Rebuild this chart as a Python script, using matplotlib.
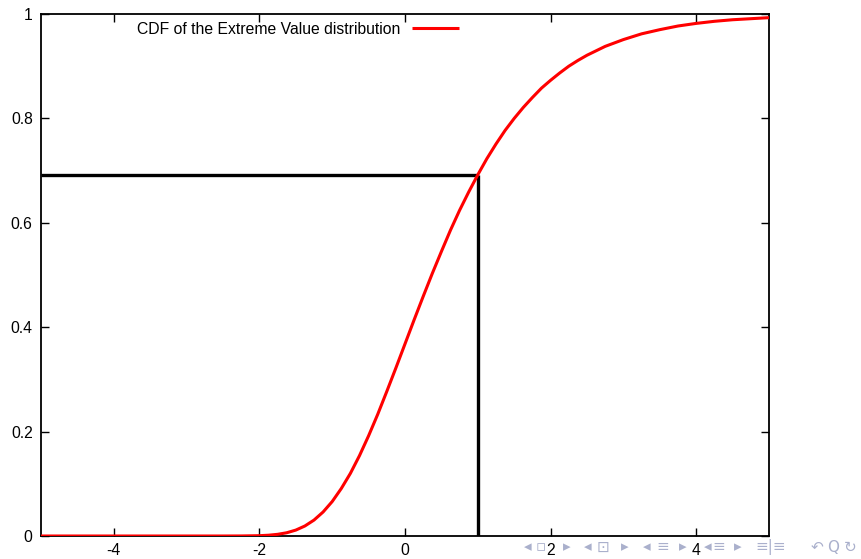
import matplotlib
matplotlib.use("Agg")
import matplotlib.pyplot as plt

# curve points
x_vals = [-5.0, -4.5, -4.0, -3.5, -3.0, -2.5, -2.25, -2.0, -1.875, -1.75, -1.625,
          -1.5, -1.375, -1.25, -1.125, -1.0, -0.875, -0.75, -0.625, -0.5, -0.375,
          -0.25, -0.125, 0.0, 0.125, 0.25, 0.375, 0.5, 0.625, 0.75, 0.875, 1.0,
          1.125, 1.25, 1.375, 1.5, 1.625, 1.75, 1.875, 2.0, 2.125, 2.25, 2.375,
          2.5, 2.75, 3.0, 3.25, 3.5, 3.75, 4.0, 4.25, 4.5, 4.75, 5.0]
cdf_vals = [0.0, 0.0, 0.0, 0.0, 0.0, 0.0, 0.0001, 0.0006, 0.0015, 0.0032, 0.0062,
            0.0113, 0.0192, 0.0305, 0.046, 0.066, 0.091, 0.120, 0.154, 0.192, 0.233,
            0.277, 0.322, 0.368, 0.414, 0.459, 0.503, 0.545, 0.586, 0.624, 0.659, 0.692,
            0.723, 0.751, 0.777, 0.800, 0.821, 0.840, 0.858, 0.873, 0.887, 0.900, 0.911,
            0.921, 0.938, 0.951, 0.962, 0.970, 0.977, 0.982, 0.986, 0.989, 0.991, 0.993]

x_mark = 1.0
y_mark = 0.692

x_ticks = [-4, -2, 0, 2, 4]
y_ticks = [0, 0.2, 0.4, 0.6, 0.8, 1]
y_ticklabels = ["0", "0.2", "0.4", "0.6", "0.8", "1"]

plt.rcParams['font.family'] = ['Liberation Sans', 'DejaVu Sans']

fig = plt.figure(figsize=(8.61, 5.59), dpi=100)
ax = fig.add_axes([41/861, 1 - 536/559, (769-41)/861, (536-14)/559])

ax.plot(x_vals, cdf_vals, color='#ff0000', lw=2.2, label='CDF of the Extreme Value distribution',
        solid_capstyle='butt', zorder=3)
ax.plot([-5, x_mark], [y_mark, y_mark], color='black', lw=2.4, solid_capstyle='butt', zorder=2)
ax.plot([x_mark, x_mark], [0, y_mark], color='black', lw=2.4, solid_capstyle='butt', zorder=2)

ax.set_xlim(-5, 5)
ax.set_ylim(0, 1)
ax.set_xticks(x_ticks)
ax.set_xticklabels([str(t) for t in x_ticks])
ax.set_yticks(y_ticks)
ax.set_yticklabels(y_ticklabels)
ax.tick_params(direction='in', length=6, width=1, top=True, right=True,
               labelsize=11.3, pad=6)
ax.tick_params(axis='x', pad=5)
for s in ax.spines.values():
    s.set_linewidth(1.3)

leg = ax.legend(loc='upper left', bbox_to_anchor=(0.113, 1.012), frameon=False,
                fontsize=11.3, markerfirst=False, handlelength=3.0, handletextpad=0.7)

# beamer navigation symbols
nav = [("◂", 528), ("▫", 541), ("▸", 567), ("◂", 588), ("⊡", 603), ("▸", 625),
       ("◂", 647), ("≡", 663), ("▸", 683), ("◂", 708), ("≡", 719), ("▸", 738),
       ("≡|≡", 771), ("↶", 817), ("Q", 833), ("↻", 850)]
for sym, px in nav:
    fig.text(px/861, 1 - 547/559, sym, color='#aab0cc', fontsize=11,
             ha='center', va='center', family='DejaVu Sans')

fig.savefig("out.png", dpi=100)
